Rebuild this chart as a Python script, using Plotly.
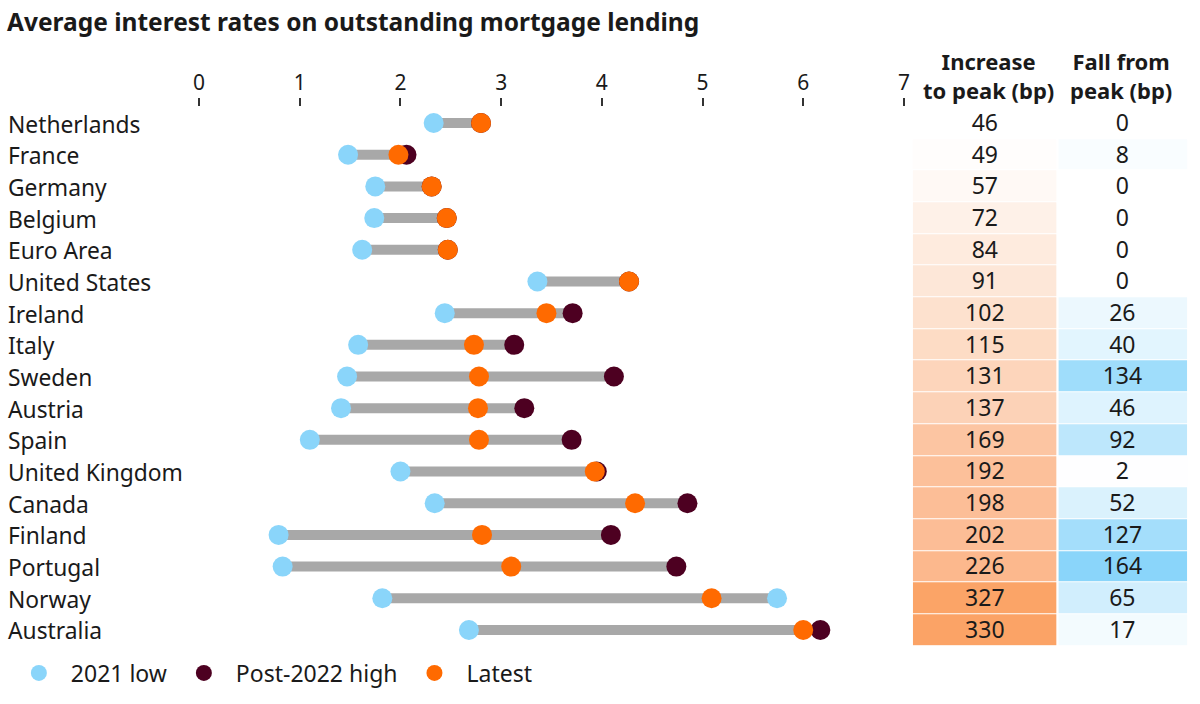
import plotly.graph_objects as go

countries = ["Netherlands", "France", "Germany", "Belgium", "Euro Area", "United States",
             "Ireland", "Italy", "Sweden", "Austria", "Spain", "United Kingdom", "Canada",
             "Finland", "Portugal", "Norway", "Australia"]
low_2021 = [2.33, 1.48, 1.75, 1.74, 1.62, 3.36, 2.44, 1.58, 1.47, 1.41, 1.10, 2.00, 2.34,
            0.79, 0.83, 1.82, 2.68]
high_post2022 = [2.80, 2.06, 2.31, 2.46, 2.47, 4.27, 3.71, 3.13, 4.12, 3.23, 3.70, 3.95, 4.85,
                 4.09, 4.74, 5.74, 6.17]
latest = [2.80, 1.98, 2.31, 2.46, 2.47, 4.27, 3.45, 2.73, 2.78, 2.77, 2.78, 3.93, 4.33,
          2.81, 3.10, 5.09, 6.00]
increase_bp = [46, 49, 57, 72, 84, 91, 102, 115, 131, 137, 169, 192, 198, 202, 226, 327, 330]
fall_bp = [0, 8, 0, 0, 0, 0, 26, 40, 134, 46, 92, 2, 52, 127, 164, 65, 17]
tick_vals = [0, 1, 2, 3, 4, 5, 6, 7]
series_names = ["2021 low", "Post-2022 high", "Latest"]
title_text = "Average interest rates on outstanding mortgage lending"
col_headers = ["Increase<br>to peak (bp)", "Fall from<br>peak (bp)"]

C_LOW = "#8AD5FA"
C_HIGH = "#4D0021"
C_LATEST = "#FF6A00"
C_SEG = "#A8A8A8"
FONT = "Noto Sans"
TXT = "#1a1a1a"

W, H = 1200, 704
NB = "\u00a0"

fig = go.Figure()

# connecting segments
seg_x, seg_y = [], []
for c, a, b, l in zip(countries, low_2021, high_post2022, latest):
    seg_x += [min(a, b, l), max(a, b, l), None]
    seg_y += [c, c, None]
fig.add_trace(go.Scatter(x=seg_x, y=seg_y, mode="lines", line=dict(color=C_SEG, width=10),
                         showlegend=False, hoverinfo="skip"))

# Norway's high point appears in light blue in the source
high_colors = [C_LOW if c == "Norway" else C_HIGH for c in countries]

# legend label padding (spacing only)
pads = [(2, 2), (2, 2), (2, 0)]
lbl = [NB * p[0] + n + NB * p[1] for n, p in zip(series_names, pads)]

fig.add_trace(go.Scatter(x=low_2021, y=countries, mode="markers", name=lbl[0],
                         marker=dict(color=C_LOW, size=20)))
fig.add_trace(go.Scatter(x=high_post2022, y=countries, mode="markers", name=lbl[1],
                         marker=dict(color=high_colors, size=20)))
fig.add_trace(go.Scatter(x=latest, y=countries, mode="markers", name=lbl[2],
                         marker=dict(color=C_LATEST, size=20)))

# table columns as heatmaps
inc_min, inc_max = min(increase_bp), max(increase_bp)
def tnorm(v):
    return (v - inc_min) / (inc_max - inc_min)
inc_scale = [[0, "#FFFFFF"], [tnorm(102), "#FDE1CE"], [tnorm(169), "#FCC5A2"],
             [tnorm(226), "#FCB88D"], [1, "#FBA366"]]
fig.add_trace(go.Heatmap(z=[[v] for v in increase_bp], y=countries, x=["inc"],
                         xaxis="x2", yaxis="y", colorscale=inc_scale,
                         zmin=inc_min, zmax=inc_max, showscale=False, ygap=1,
                         text=[[str(v)] for v in increase_bp], texttemplate="%{text}",
                         textfont=dict(family=FONT, size=23, color=TXT), hoverinfo="skip"))
fig.add_trace(go.Heatmap(z=[[v] for v in fall_bp], y=countries, x=["fall"],
                         xaxis="x3", yaxis="y",
                         colorscale=[[0, "#FFFFFF"], [1, "#8AD5FA"]],
                         zmin=0, zmax=max(fall_bp), showscale=False, ygap=1,
                         text=[[str(v)] for v in fall_bp], texttemplate="%{text}",
                         textfont=dict(family=FONT, size=23, color=TXT), hoverinfo="skip"))

y_top, y_bot = 107.2, 645.8
ydom = [1 - y_bot / H, 1 - y_top / H]

annotations = []
for c in countries:
    annotations.append(dict(x=0, xref="paper", y=c, yref="y", text=c, showarrow=False,
                            xanchor="left", yanchor="middle", yshift=-1,
                            font=dict(family=FONT, size=22.8, color=TXT)))
for hdr, xc in zip(col_headers, [992, 1126]):
    annotations.append(dict(x=xc / W, xref="paper", y=1 - 75.5 / H, yref="paper", text="<b>" + hdr + "</b>",
                            showarrow=False, xanchor="center", yanchor="middle", align="center",
                            font=dict(family=FONT, size=22, color=TXT)))

fig.update_layout(
    width=W, height=H,
    margin=dict(l=0, r=0, t=0, b=0),
    paper_bgcolor="white", plot_bgcolor="white",
    font=dict(family=FONT, color=TXT),
    title=dict(text="<b>" + title_text + "</b>", x=7 / W, xanchor="left", y=1 - 22 / H,
               yanchor="middle", font=dict(family=FONT, size=24.5, color=TXT)),
    xaxis=dict(domain=[195 / W, 907 / W], range=[0, 7], side="top", tickvals=tick_vals,
               ticktext=[str(t) for t in tick_vals], ticks="outside", ticklen=8, tickwidth=2,
               tickcolor="#333333", showgrid=False, zeroline=False, showline=False,
               tickfont=dict(family=FONT, size=21, color=TXT), fixedrange=True),
    xaxis2=dict(domain=[916 / W, 1061 / W], visible=False, anchor="y"),
    xaxis3=dict(domain=[1063 / W, 1193 / W], visible=False, anchor="y"),
    yaxis=dict(domain=ydom, categoryorder="array", categoryarray=countries,
               range=[len(countries) - 0.5, -0.5], showticklabels=False, showgrid=False,
               zeroline=False, showline=False, ticks=""),
    legend=dict(orientation="h", x=13 / W, xanchor="left", y=1 - 673 / H, yanchor="middle",
                font=dict(family=FONT, size=23, color=TXT), itemsizing="trace"),
    annotations=annotations,
    showlegend=True,
)

fig.write_html("out.html")
